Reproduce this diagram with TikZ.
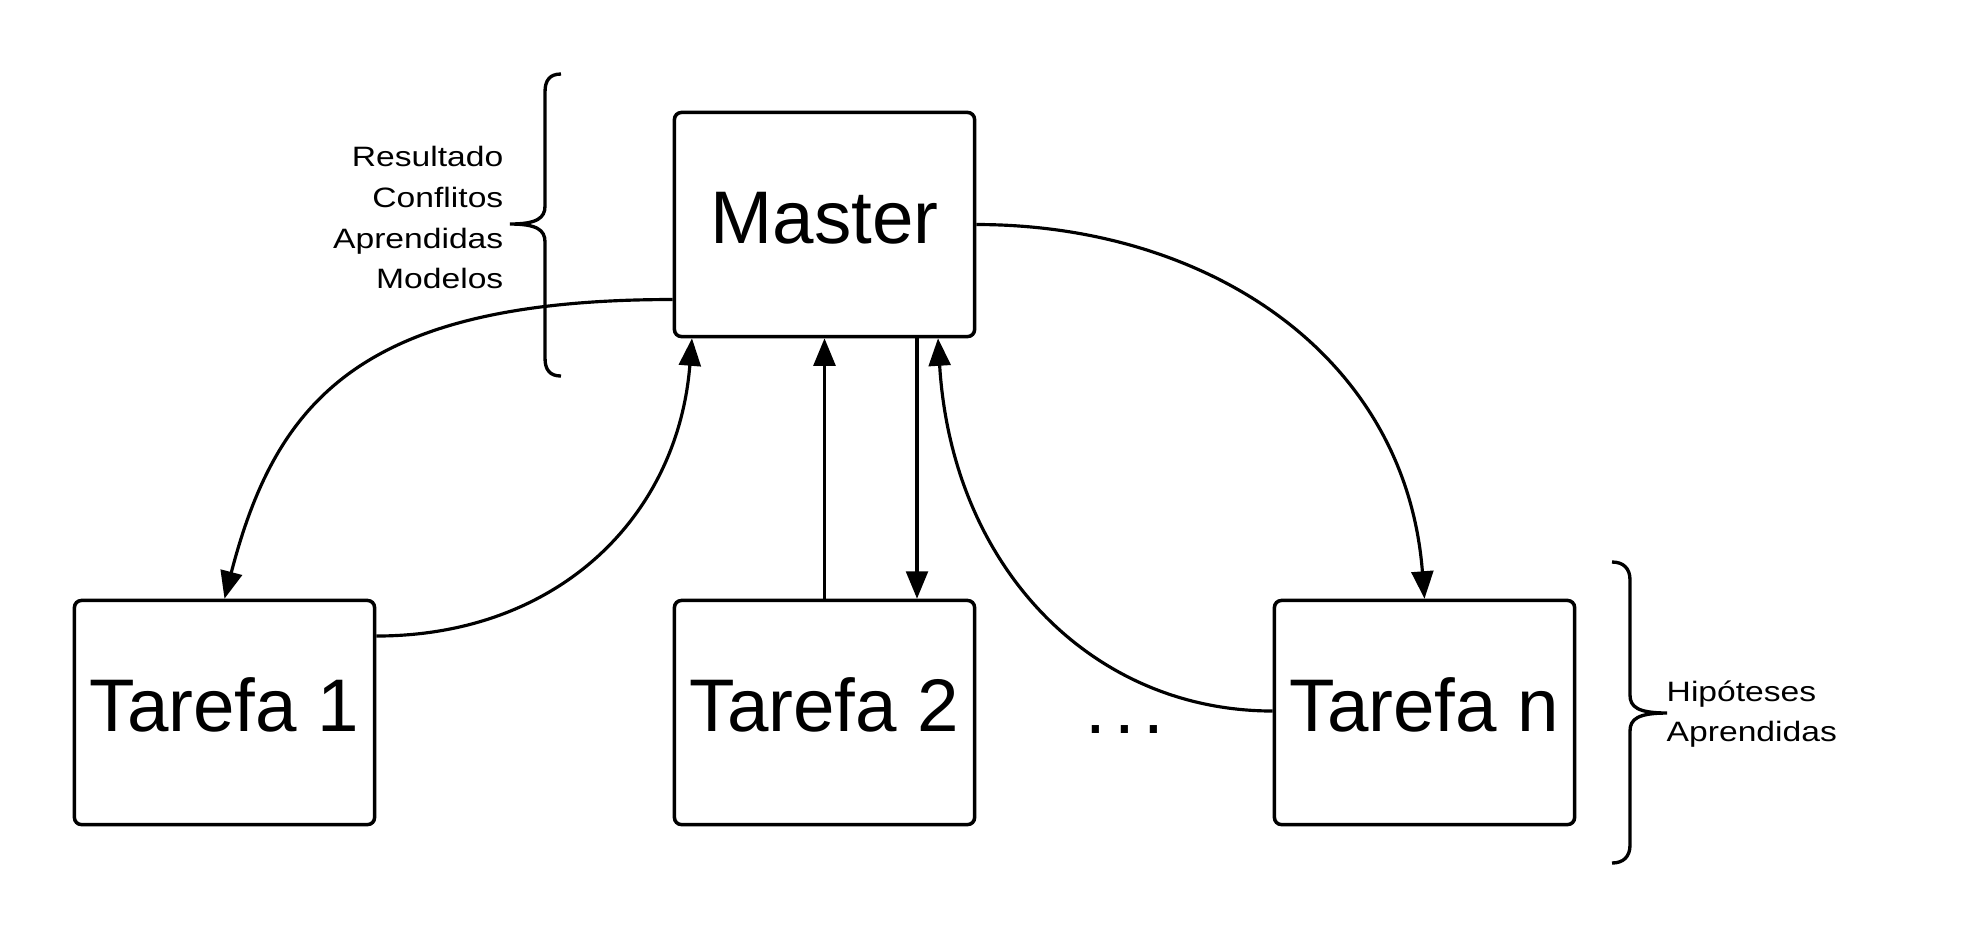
\documentclass[tikz,border=0pt]{standalone}
\usepackage{fontspec}
\setmainfont{Liberation Sans}
\newfontfamily\stretchfont[FakeStretch=1.2]{Liberation Sans}
\usetikzlibrary{arrows.meta,calc}
\begin{document}
\begin{tikzpicture}[x=0.01cm,y=-0.01cm,
  box/.style={draw,line width=1pt,rounded corners=2pt,minimum width=3cm,minimum height=2.24cm,inner sep=0pt,
    font=\fontsize{21.2pt}{25pt}\selectfont,text height=0.533cm,text depth=0.146cm},
  conn/.style={line width=0.9pt},
  arr/.style={conn,-{Triangle[length=7.8pt,width=6.2pt]}},
  bracestyle/.style={line width=0.95pt},
  note/.style={inner sep=0pt,font=\stretchfont\fontsize{7.97pt}{11.55pt}\selectfont,text depth=0pt}]
\fill[white] (0,0) rectangle (1988,938);
\useasboundingbox (0,0) rectangle (1988,938);

% boxes
\node[box] (M)  at (824.5,224.5) {Master};
\node[box] (T1) at (224.5,712.5) {Tarefa 1};
\node[box] (T2) at (824.5,712.5) {Tarefa 2};
\node[box] (Tn) at (1424.5,712.5) {Tarefa n};
\node[anchor=base,inner sep=0pt,font=\fontsize{21.2pt}{25pt}\selectfont] (dots) at (1124.5,733.3) {.\kern0.11em.\kern0.11em.};

% labels
\node[note,align=right,anchor=east,text height=1.418cm] (L) at (504,217.85) {Resultado\\Conflitos\\Aprendidas\\Modelos};
\node[note,align=left,anchor=west,text height=0.597cm] (R) at (1666,711.85) {Hipóteses\\Aprendidas};

% connectors
\draw[arr] ($(M.west)+(0,75)$) .. controls ($(M.west)+(-310,75)$) and ($(T1.north)+(52,-200)$) .. (T1.north);
\draw[arr] ($(T1.east)+(0,-76.5)$) .. controls ($(T1.east)+(180,-76.5)$) and ($(M.south)+(-146.9,180)$) .. ($(M.south)+(-132.5,0)$);
\draw[arr] (M.east) .. controls ($(M.east)+(230,0)$) and ($(Tn.north)+(-19,-245)$) .. (Tn.north);
\draw[arr] ($(Tn.west)+(0,-1.5)$) .. controls ($(Tn.west)+(-180,-1.5)$) and ($(M.south)+(127.5,230)$) .. ($(M.south)+(113.5,0)$);
\draw[arr] (T2.north) -- (M.south);
\draw[arr] ($(M.south)+(92.5,0)$) -- ($(T2.north)+(92.5,0)$);

% braces
\draw[bracestyle] (561,74) .. controls (550,74) and (545,80) .. (545,92) -- (545,206)
  .. controls (545,218) and (537,224) .. (510,224)
  .. controls (537,224) and (545,230) .. (545,242) -- (545,358)
  .. controls (545,370) and (550,376) .. (561,376);
\draw[bracestyle] (1612,562) .. controls (1623,562) and (1630,568) .. (1630,580) -- (1630,695)
  .. controls (1630,707) and (1638,713) .. (1667,713)
  .. controls (1638,713) and (1630,719) .. (1630,731) -- (1630,845)
  .. controls (1630,857) and (1623,863) .. (1612,863);
\end{tikzpicture}
\end{document}
